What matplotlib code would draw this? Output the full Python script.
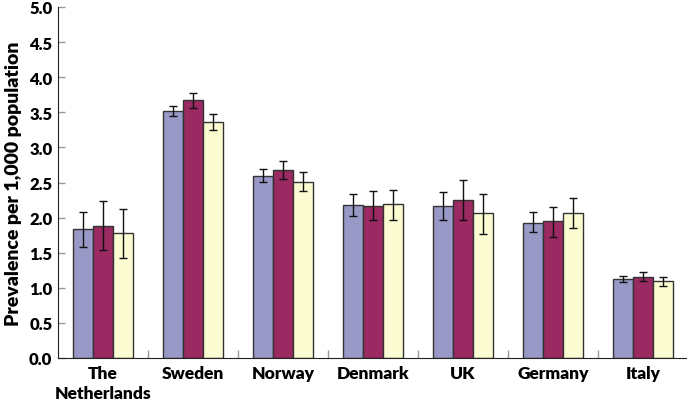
import matplotlib
matplotlib.use("Agg")
import matplotlib.pyplot as plt
import numpy as np

countries = ["The\nNetherlands", "Sweden", "Norway", "Denmark", "UK", "Germany", "Italy"]
s1 = [1.84, 3.52, 2.59, 2.18, 2.16, 1.93, 1.12]
s1_lo = [1.58, 3.45, 2.51, 2.02, 1.96, 1.79, 1.08]
s1_hi = [2.08, 3.59, 2.69, 2.33, 2.36, 2.08, 1.17]
s2 = [1.88, 3.67, 2.68, 2.17, 2.25, 1.95, 1.16]
s2_lo = [1.54, 3.56, 2.55, 1.96, 1.96, 1.73, 1.10]
s2_hi = [2.24, 3.78, 2.81, 2.38, 2.54, 2.15, 1.23]
s3 = [1.78, 3.36, 2.51, 2.19, 2.06, 2.07, 1.09]
s3_lo = [1.43, 3.25, 2.38, 1.97, 1.77, 1.85, 1.02]
s3_hi = [2.12, 3.47, 2.65, 2.40, 2.34, 2.28, 1.16]
yticks = [0.0, 0.5, 1.0, 1.5, 2.0, 2.5, 3.0, 3.5, 4.0, 4.5, 5.0]

plt.rcParams['font.family'] = ['Lato', 'DejaVu Sans']
fig = plt.figure(figsize=(6.87, 4.02), dpi=100)
ax = fig.add_axes([58/687, 43/402, 630/687, 351/402])

x = np.arange(len(countries))
w = 0.222
series = [(s1, s1_lo, s1_hi, "#9999c8"), (s2, s2_lo, s2_hi, "#9b2962"), (s3, s3_lo, s3_hi, "#fcfcd3")]
for i, (v, lo, hi, c) in enumerate(series):
    v = np.array(v); lo = np.array(lo); hi = np.array(hi)
    pos = x + (i - 1) * w
    ax.bar(pos, v, width=w, color=c, edgecolor="#333333", linewidth=1.0, zorder=2)
    ax.errorbar(pos, v, yerr=[v - lo, hi - v], fmt="none", ecolor="#111111",
                elinewidth=1.0, capsize=3, capthick=1.0, zorder=3)

ax.set_xlim(-0.5, len(countries) - 0.5)
ax.set_ylim(0, 5.0)
ax.set_yticks(yticks)
ax.set_yticklabels([f"{t:.1f}" for t in yticks], fontsize=12, fontweight="heavy")
ax.set_xticks(x)
ax.set_xticklabels(countries, fontsize=12.5, fontweight="heavy", linespacing=1.3)
ax.tick_params(axis="x", length=0, pad=5)
ax.set_xticks(np.arange(len(countries)) + 0.5, minor=True)
ax.tick_params(axis="x", which="minor", direction="in", length=6, color="#999999", width=1)
ax.tick_params(axis="y", direction="in", length=5, color="#999999", width=1, pad=4)
ax.spines["top"].set_visible(False)
ax.spines["right"].set_visible(False)
ax.spines["left"].set_color("#222222")
ax.spines["bottom"].set_color("#222222")
ax.set_ylabel("Prevalence per 1,000 population", fontsize=14, fontweight="heavy", labelpad=5)

fig.savefig("out.png", dpi=100)
